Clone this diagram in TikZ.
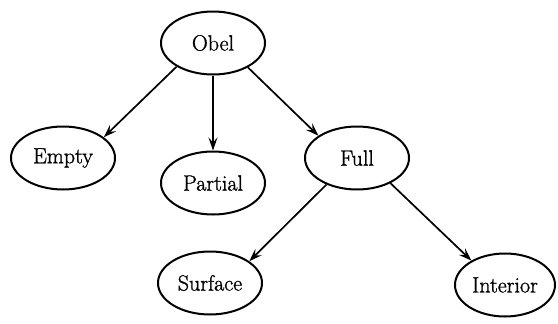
\documentclass[tikz,border=0pt]{standalone}
\usepackage{fontspec}
\newfontfamily\heavyfont{Latin Modern Roman}[FakeBold=1.2]
\usetikzlibrary{shapes.geometric,arrows.meta}
\begin{document}
\begin{tikzpicture}[x=1pt,y=-1pt,
  nodebox/.style={draw,ellipse,line width=2pt,inner sep=0pt,
    minimum width=104pt,minimum height=63pt,font=\heavyfont\fontsize{22}{26}\selectfont},
  conn/.style={line width=1.7pt,-{Stealth[length=13pt,width=9pt,inset=5pt]}}]
\useasboundingbox (0,0) rectangle (558,324);
\node[nodebox] (Obel) at (213,43) {Obel};
\node[nodebox] (Empty) at (63,158) {Empty};
\node[nodebox] (Partial) at (213,183) {Partial};
\node[nodebox] (Full) at (357,158) {Full};
\node[nodebox] (Surface) at (210,283) {Surface};
\node[nodebox,minimum width=100pt] (Interior) at (505,285) {Interior};
\draw[conn] (Obel.213) -- (Empty.27);
\draw[conn] (Obel.south) -- (Partial.north);
\draw[conn] (Obel.325) -- (Full.150);
\draw[conn] (Full.221) -- (Surface.29);
\draw[conn] (Full.323) -- (Interior.144);
\end{tikzpicture}
\end{document}
